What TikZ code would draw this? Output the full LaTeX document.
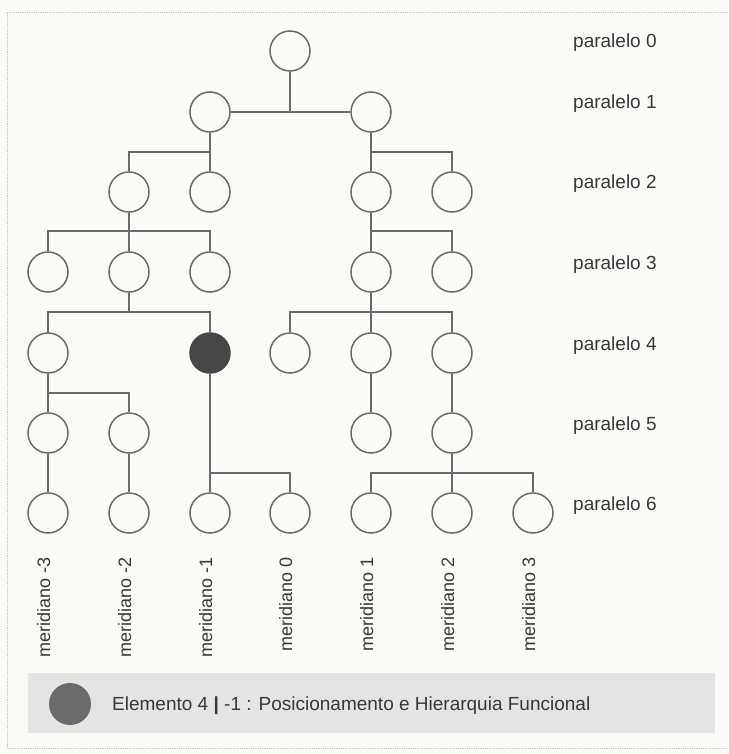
\documentclass[tikz,border=0pt]{standalone}
\usepackage{fontspec}
\setmainfont{Liberation Sans}
\definecolor{paperwhite}{HTML}{FAFAF6}
\definecolor{linegray}{HTML}{6A6A6A}
\definecolor{darkunit}{HTML}{464646}
\definecolor{bandgray}{HTML}{E4E4E2}
\definecolor{keygray}{HTML}{6A6A6A}
\definecolor{textgray}{HTML}{383838}
\begin{document}
\begin{tikzpicture}[x=1pt,y=-1pt,
  unit/.style={circle, draw=linegray, line width=1.5pt, minimum size=40pt, inner sep=0pt, fill=paperwhite},
  marked/.style={unit, fill=darkunit, draw=darkunit},
  link/.style={draw=linegray, line width=1.5pt},
  rowlabel/.style={anchor=base west, inner sep=0pt, text=textgray, font=\fontsize{19}{21}\selectfont},
  collabel/.style={anchor=base east, rotate=90, inner sep=0pt, text=textgray, font=\fontsize{18}{20}\selectfont},
  frameline/.style={draw=gray!45, line width=0.8pt, densely dotted}
]
% page and frame
\useasboundingbox (0,0) rectangle (728,754);
\fill[paperwhite] (0,0) rectangle (728,754);
\draw[frameline] (728,12) -- (7,12) -- (7,748) -- (728,748);

% paralelo 0
\node[unit] (r0) at (290,51) {};
% paralelo 1
\node[unit] (r1a) at (210,112) {};
\node[unit] (r1b) at (371,112) {};
% paralelo 2
\node[unit] (r2a) at (129,192) {};
\node[unit] (r2b) at (210,192) {};
\node[unit] (r2c) at (371,192) {};
\node[unit] (r2d) at (452,192) {};
% paralelo 3
\node[unit] (r3a) at (48,272) {};
\node[unit] (r3b) at (129,272) {};
\node[unit] (r3c) at (210,272) {};
\node[unit] (r3d) at (371,272) {};
\node[unit] (r3e) at (452,272) {};
% paralelo 4
\node[unit] (r4a) at (48,353) {};
\node[marked] (r4b) at (210,353) {};
\node[unit] (r4c) at (290,353) {};
\node[unit] (r4d) at (371,353) {};
\node[unit] (r4e) at (452,353) {};
% paralelo 5
\node[unit] (r5a) at (48,433) {};
\node[unit] (r5b) at (129,433) {};
\node[unit] (r5c) at (371,433) {};
\node[unit] (r5d) at (452,433) {};
% paralelo 6
\node[unit] (r6a) at (48,513) {};
\node[unit] (r6b) at (129,513) {};
\node[unit] (r6c) at (210,513) {};
\node[unit] (r6d) at (290,513) {};
\node[unit] (r6e) at (371,513) {};
\node[unit] (r6f) at (452,513) {};
\node[unit] (r6g) at (533,513) {};

% branching points
\coordinate (j2l) at (210,152);
\coordinate (j2r) at (371,152);
\coordinate (j3l) at (129,231);
\coordinate (j3r) at (371,231);
\coordinate (j4l) at (129,312);
\coordinate (j4r) at (371,312);
\coordinate (j5l) at (48,393);
\coordinate (j6l) at (210,473);
\coordinate (j6r) at (452,473);

% connectors
\draw[link] (r0) |- (r1a);
\draw[link] (r0) |- (r1b);
\draw[link] (r1a) -- (r2b);
\draw[link] (r2a) |- (j2l);
\draw[link] (r1b) -- (r2c);
\draw[link] (r2d) |- (j2r);
\draw[link] (r2a) -- (r3b);
\draw[link] (r3a) |- (j3l);
\draw[link] (r3c) |- (j3l);
\draw[link] (r2c) -- (r3d);
\draw[link] (r3e) |- (j3r);
\draw[link] (r3b) -- (j4l);
\draw[link] (r4a) |- (j4l);
\draw[link] (r4b) |- (j4l);
\draw[link] (r3d) -- (r4d);
\draw[link] (r4c) |- (j4r);
\draw[link] (r4e) |- (j4r);
\draw[link] (r4a) -- (r5a);
\draw[link] (r5b) |- (j5l);
\draw[link] (r4d) -- (r5c);
\draw[link] (r4e) -- (r5d);
\draw[link] (r5a) -- (r6a);
\draw[link] (r5b) -- (r6b);
\draw[link] (r4b) -- (r6c);
\draw[link] (r6d) |- (j6l);
\draw[link] (r5d) -- (r6f);
\draw[link] (r6e) |- (j6r);
\draw[link] (r6g) |- (j6r);

% row labels
\node[rowlabel] (p0) at (573,48) {paralelo 0};
\node[rowlabel] (p1) at (573,109) {paralelo 1};
\node[rowlabel] (p2) at (573,189) {paralelo 2};
\node[rowlabel] (p3) at (573,269) {paralelo 3};
\node[rowlabel] (p4) at (573,350) {paralelo 4};
\node[rowlabel] (p5) at (573,430) {paralelo 5};
\node[rowlabel] (p6) at (573,510) {paralelo 6};

% column labels
\node[collabel] (m1) at (50,557) {meridiano -3};
\node[collabel] (m2) at (131,557) {meridiano -2};
\node[collabel] (m3) at (212,557) {meridiano -1};
\node[collabel] (m4) at (292,557) {meridiano 0};
\node[collabel] (m5) at (373,557) {meridiano 1};
\node[collabel] (m6) at (454,557) {meridiano 2};
\node[collabel] (m7) at (535,557) {meridiano 3};

% key
\fill[bandgray] (28,673) rectangle (715,733);
\node[circle, fill=keygray, minimum size=42pt, inner sep=0pt] (key) at (70,704) {};
\node[anchor=base west, inner sep=0pt, text=textgray, font=\fontsize{19}{21}\selectfont] (keytext) at (112,710)
  {Elemento 4 \textbf{|} -1 : Posicionamento e Hierarquia Funcional};
\end{tikzpicture}
\end{document}
